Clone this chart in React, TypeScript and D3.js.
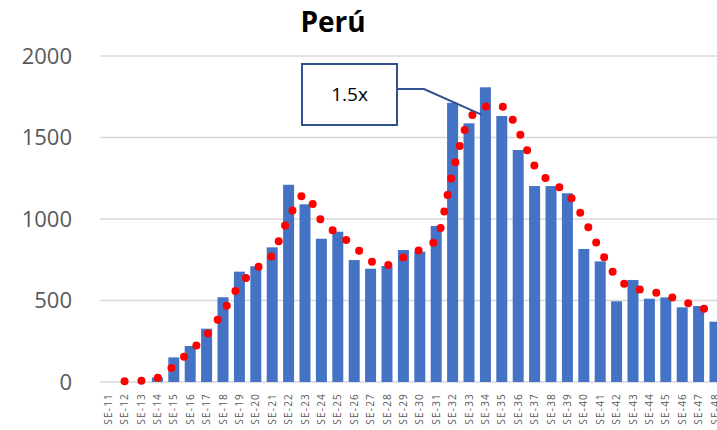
import React from "react";
import * as d3 from "d3";

const weeks = Array.from({ length: 38 }, (_, i) => `SE-${i + 11}`);
const casos = [
  0, 0, 0, 28, 151, 221, 327, 520, 677, 710, 826, 1210, 1090, 879, 922, 748, 695, 712, 810,
  800, 957, 1713, 1587, 1808, 1632, 1423, 1202, 1202, 1158, 816, 740, 495, 626, 511, 519,
  458, 466, 370,
];
const avgWeeks = weeks.slice(1);
const promedio = [
  5, 8, 25, 98, 190, 288, 432, 593, 693, 779, 1006, 1150, 990, 908, 834, 742, 718, 764, 810,
  873, 1286, 1606, 1690, 1690, 1543, 1326, 1224, 1160, 1000, 810, 644, 577, 558, 531, 496,
  461, 425,
];
const yTicks = [0, 500, 1000, 1500, 2000];
const title = "Perú";
const calloutText = "1.5x";

export default function App() {
  const W = 717;
  const H = 430;
  const step = 16.4;
  const x0 = 100;
  const x = d3
    .scaleBand<string>()
    .domain(weeks)
    .range([x0, x0 + step * weeks.length])
    .paddingInner(0.33)
    .paddingOuter(0.165);
  const y = d3.scaleLinear().domain([0, 2000]).range([382, 56]);
  const cx = (w: string) => (x(w) as number) + x.bandwidth() / 2;

  const line = d3
    .line<number>()
    .x((_, i) => cx(avgWeeks[i]))
    .y((d) => y(d))
    .curve(d3.curveMonotoneX);

  const tipX = cx("SE-34") - 4;
  const tipY = y(1640);
  const boxX = 302;
  const boxY = 64;
  const boxW = 95;
  const boxH = 61;

  return (
    <div style={{ position: "fixed", left: 0, top: 0, width: W, height: H, overflow: "hidden", background: "#fff" }}>
      <svg width={W} height={H} style={{ display: "block" }} fontFamily="'Open Sans', sans-serif">
        <rect width={W} height={H} fill="#fff" />
        <text x={333} y={32} textAnchor="middle" fontSize={28} fontWeight="bold" fill="#000">
          {title}
        </text>
        {yTicks.map((t) => (
          <g key={t}>
            <line x1={x0} x2={W} y1={y(t)} y2={y(t)} stroke="#D9D9D9" strokeWidth={1.4} />
            <text x={72} y={y(t)} dy="0.36em" textAnchor="end" fontSize={22} fill="#595959">
              {t}
            </text>
          </g>
        ))}
        {weeks.map((w, i) => (
          <rect
            key={w}
            x={x(w)}
            y={y(casos[i])}
            width={x.bandwidth()}
            height={y(0) - y(casos[i])}
            fill="#4472C4"
          />
        ))}
        <path
          d={line(promedio) || ""}
          fill="none"
          stroke="#FF0000"
          strokeWidth={8}
          strokeLinecap="round"
          strokeDasharray="0 16.8"
        />
        {weeks.map((w) => (
          <text
            key={w}
            transform={`translate(${cx(w) + 3.5},393) rotate(-90)`}
            textAnchor="end"
            fontSize={10}
            letterSpacing={1.2}
            fill="#595959"
          >
            {w}
          </text>
        ))}
        <polyline
          points={`${boxX + boxW},${boxY + 25} ${boxX + boxW + 27},${boxY + 25} ${tipX},${tipY}`}
          fill="none"
          stroke="#2F528F"
          strokeWidth={2}
        />
        <rect x={boxX} y={boxY} width={boxW} height={boxH} fill="#fff" stroke="#2F528F" strokeWidth={2} />
        <text x={boxX + boxW / 2} y={boxY + boxH / 2} dy="0.36em" textAnchor="middle" fontSize={19} fill="#000">
          {calloutText}
        </text>
      </svg>
    </div>
  );
}
